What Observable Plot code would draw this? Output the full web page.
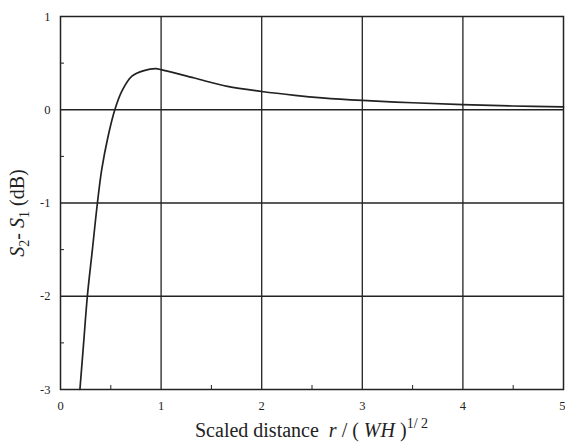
<!DOCTYPE html>
<html>
<head>
<meta charset="utf-8">
<script src="https://cdn.jsdelivr.net/npm/d3@7"></script>
<script src="https://cdn.jsdelivr.net/npm/@observablehq/plot@0.6"></script>
<style>
  html, body { margin: 0; padding: 0; background: #fff; }
  #chart svg { display: block; }
  #chart svg text { font-family: 'Liberation Serif', 'DejaVu Serif', serif !important; }
</style>
</head>
<body>
<div id="chart"></div>
<script>
// Scaled distance r/(WH)^1/2
const distance = [0.193, 0.23, 0.267, 0.317, 0.367, 0.41, 0.47, 0.54, 0.61, 0.71, 0.83, 0.95, 1.0, 1.33, 1.66, 2.0, 2.33, 2.6, 3.0, 3.5, 4.0, 4.5, 5.0];
// S2 - S1 (dB)
const diffDb = [-3.0, -2.5, -2.0, -1.5, -1.0, -0.64, -0.3, 0.0, 0.2, 0.36, 0.42, 0.44, 0.43, 0.34, 0.25, 0.196, 0.155, 0.128, 0.10, 0.075, 0.055, 0.04, 0.03];
const xTicks = [0, 1, 2, 3, 4];
const xLastTick = [5];
const yTicks = [-3, -2, -1, 0, 1];
const xMinor = [0.5, 1.5, 2.5, 3.5, 4.5];
const yMinor = [-2.5, -1.5, -0.5, 0.5];
const xGrid = [1, 2, 3, 4];
const yGrid = [-2, -1, 0];

const data = distance.map((d, i) => ({x: d, y: diffDb[i]}));
const ink = "#222";
const font = "'Liberation Serif', 'DejaVu Serif', serif";

const chart = Plot.plot({
  width: 565,
  height: 446,
  marginLeft: 60,
  marginRight: 2,
  marginTop: 16,
  marginBottom: 57,
  style: {fontFamily: font, fontSize: "12px", color: ink, background: "#fff"},
  x: {domain: [0, 5], label: null},
  y: {domain: [-3, 1], label: null},
  marks: [
    Plot.ruleX(xGrid, {stroke: ink, strokeWidth: 1.3}),
    Plot.ruleY(yGrid, {stroke: ink, strokeWidth: 1.3}),
    Plot.frame({stroke: ink, strokeWidth: 1.5}),
    Plot.axisX({ticks: xMinor, tickSize: -4, text: null, stroke: ink}),
    Plot.axisY({ticks: yMinor, tickSize: -4, text: null, stroke: ink}),
    Plot.axisX({ticks: xTicks, tickSize: 0, tickPadding: 12, tickFormat: d => String(d), fontSize: 12.5, fontFamily: font, fill: ink}),
    Plot.axisX({ticks: xLastTick, tickSize: 0, tickPadding: 12, tickFormat: d => String(d), fontSize: 12.5, fontFamily: font, fill: ink, textAnchor: "end", dx: 2}),
    Plot.axisY({ticks: yTicks, tickSize: 0, tickPadding: 10, tickFormat: d => String(d), fontSize: 12.5, fontFamily: font, fill: ink}),
    Plot.line(data, {x: "x", y: "y", curve: "catmull-rom", stroke: ink, strokeWidth: 1.7})
  ]
});

document.getElementById("chart").appendChild(chart);

const svg = d3.select(chart);
// x-axis title
const xt = svg.append("text")
  .attr("x", 195).attr("y", 437)
  .attr("text-anchor", "start")
  .attr("font-family", font).attr("font-size", 20).attr("fill", ink);
xt.append("tspan").text("Scaled distance\u2002");
xt.append("tspan").attr("font-style", "italic").text("r");
xt.append("tspan").text(" / ( ");
xt.append("tspan").attr("font-style", "italic").text("WH");
xt.append("tspan").text(" )");
xt.append("tspan").attr("dy", -9).attr("font-size", 14).text("1/ 2");

// y-axis title
const yt = svg.append("text")
  .attr("transform", "translate(24,213) rotate(-90)")
  .attr("text-anchor", "middle")
  .attr("font-family", font).attr("font-size", 20).attr("fill", ink);
yt.append("tspan").attr("font-style", "italic").text("S");
yt.append("tspan").attr("dy", 5).attr("font-size", 14).text("2");
yt.append("tspan").attr("dy", -5).text("- ");
yt.append("tspan").attr("font-style", "italic").text("S");
yt.append("tspan").attr("dy", 5).attr("font-size", 14).text("1");
yt.append("tspan").attr("dy", -5).text(" (dB)");
</script>
</body>
</html>
